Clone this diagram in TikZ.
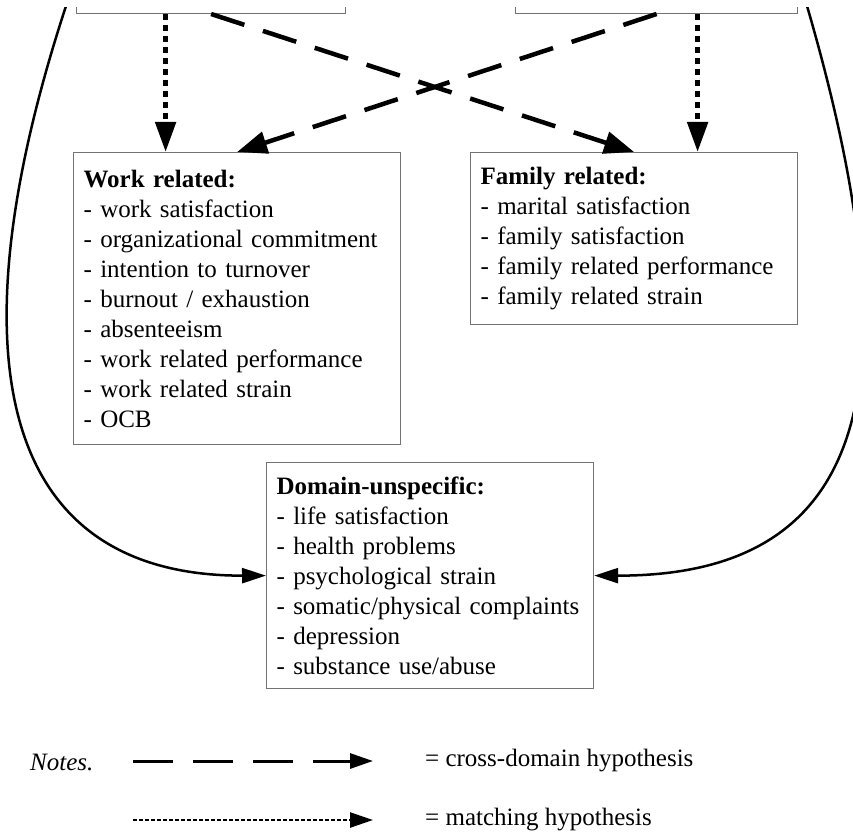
\documentclass[tikz,border=0pt]{standalone}
\usepackage{fontspec}
\setmainfont{Liberation Serif}
\usetikzlibrary{arrows.meta,positioning}
\tikzset{
	basic/.style   = {draw=black!55, line width=1.2pt, rectangle, inner sep=0pt},
	source/.style  = {basic, anchor=south west, minimum height=74pt},
	outcome/.style = {basic, anchor=north west, align=left, text width=307pt,
		inner xsep=10pt, font=\fontsize{25}{30}\selectfont},
	legend/.style  = {anchor=west, inner sep=0pt, font=\fontsize{25}{30}\selectfont},
	cross/.style   = {line width=4.5pt, dash pattern=on 35pt off 19.5pt,
		-{Triangle[length=30pt,width=22pt]}},
	matching/.style = {line width=5pt, dash pattern=on 6pt off 5pt,
		-{Triangle[length=30pt,width=20pt]}},
	spill/.style   = {line width=2.5pt, -{Triangle[length=24pt,width=15pt]}}
}
\begin{document}
\begin{tikzpicture}[x=1pt, y=-1pt]
\useasboundingbox (0,0) rectangle (853,834);
\clip (0,8) rectangle (853,834);

% the two conflict boxes, cut off at the top
\node[source, minimum width=269pt] (wif) at (76,14) {};
\node[source, minimum width=282pt] (fiw) at (515,14) {};

% outcome domains
\node[outcome, minimum height=292pt] (work) at (73,152)
	{\textbf{Work related:}\\- work satisfaction\\- organizational commitment\\
	- intention to turnover\\- burnout / exhaustion\\- absenteeism\\
	- work related performance\\- work related strain\\- OCB};
\node[outcome, minimum height=172pt] (fam) at (470,152)
	{\textbf{Family related:}\\- marital satisfaction\\- family satisfaction\\
	- family related performance\\- family related strain};
\node[outcome, minimum height=226pt] (unspec) at (266,462)
	{\textbf{Domain-unspecific:}\\- life satisfaction\\- health problems\\
	- psychological strain\\- somatic/physical complaints\\- depression\\
	- substance use/abuse};

% matching hypotheses
\draw[matching] ([xshift=-45.5pt]wif.south) -- ([xshift=-45.5pt]wif.south |- work.north);
\draw[matching] ([xshift=41pt]fiw.south) -- ([xshift=41pt]fiw.south |- fam.north);

% cross-domain hypotheses
\draw[cross] (wif.south) -- (fam.north);
\draw[cross] (fiw.south) -- (work.north);

% domain-unspecific
\draw[spill] (wif.west) .. controls (-50,340) and (-10,576) .. (unspec.west);
\draw[spill] (fiw.east) .. controls (915,360) and (885,576) .. (unspec.east);

% notes
\node[legend, font=\fontsize{25}{30}\selectfont\itshape] (notes) at (30,762) {Notes.};
\coordinate (cs) at (133,761);
\coordinate (ce) at (373,761);
\draw[line width=3pt, dash pattern=on 40pt off 20pt,
	-{Triangle[length=23pt,width=15pt]}] (cs) -- (ce);
\node[legend] (crosstext) at (425,761) {= cross-domain hypothesis};
\coordinate (ms) at (133,820);
\coordinate (me) at (373,820);
\draw[line width=2.5pt, dash pattern=on 3.5pt off 2.5pt,
	-{Triangle[length=23pt,width=15pt]}] (ms) -- (me);
\node[legend] (matchtext) at (425,820) {= matching hypothesis};
\end{tikzpicture}
\end{document}
